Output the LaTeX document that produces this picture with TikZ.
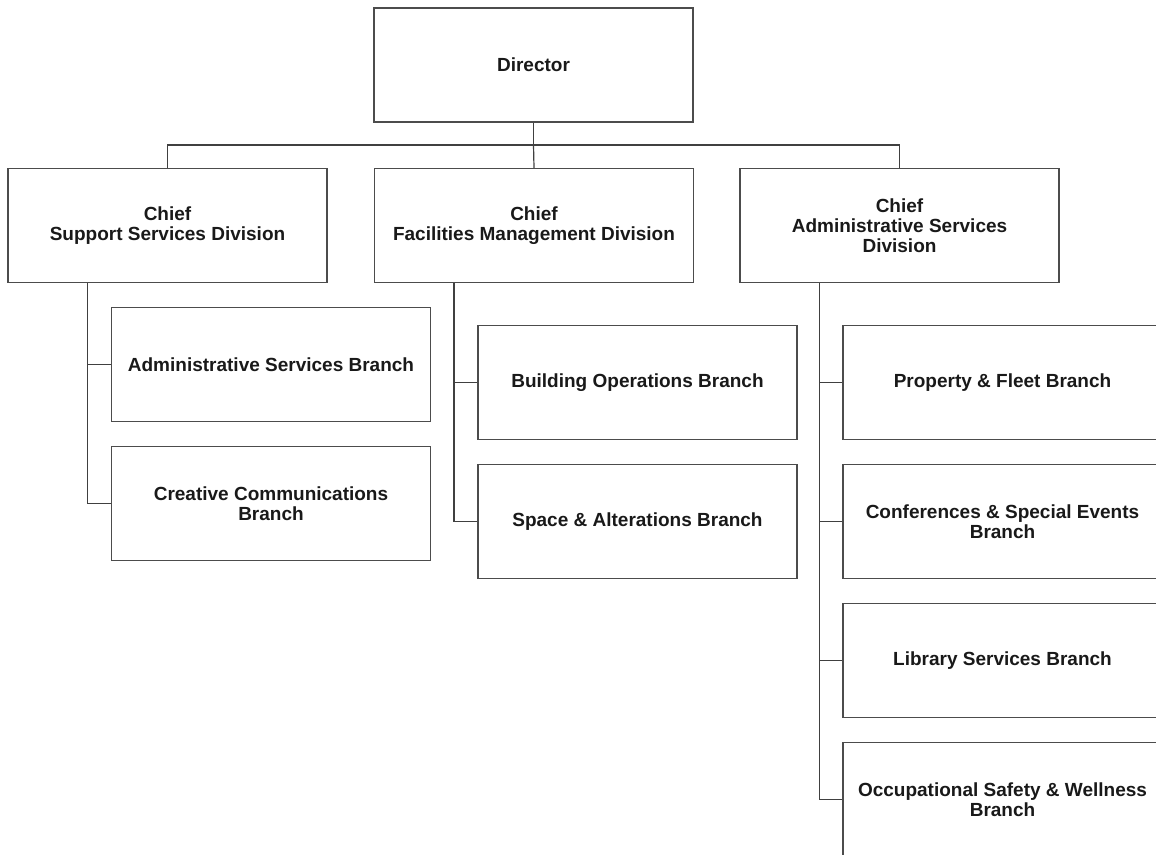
\documentclass[tikz,border=0pt]{standalone}
\usepackage{fontspec}
\setmainfont{Liberation Sans}
\tikzset{
	box/.style={draw=black!70, line width=1.2pt, minimum width=319pt, minimum height=114pt,
		align=center, inner sep=2pt, text=black!90, font=\bfseries\fontsize{19}{20}\selectfont},
	link/.style={draw=black!75, line width=1.2pt}
}
\begin{document}
\begin{tikzpicture}[x=1pt, y=-1pt]
		
		\clip (0,0) rectangle (1156,854);
		
		\node[box] (D) at (533.5,65) {Director};
		\coordinate (bus) at (533.5,145);
		
		\node[box] (S) at (167.5,225.5) {Chief\\Support Services Division};
		\node[box] (F) at (534,225.5) {Chief\\Facilities Management Division};
		\node[box] (A) at (899.5,225.5) {Chief\\Administrative Services\\Division};
		
		\draw[link] (D) -- (bus);
		\draw[link] (S.north) |- (bus) -| (A.north);
		\draw[link] (bus) -- (F.north);
		
		% support services
		\node[box] (S1) at (271,364.5) {Administrative Services Branch};
		\node[box] (S2) at (271,503.5) {Creative Communications\\Branch};
		\draw[link] ([xshift=80pt]S.south west) |- (S1.west);
		\draw[link] ([xshift=80pt]S.south west) |- (S2.west);
		
		% facilities management
		\node[box] (F1) at (637.5,382.5) {Building Operations Branch};
		\node[box] (F2) at (637.5,521.5) {Space \& Alterations Branch};
		\draw[link] ([xshift=80pt]F.south west) |- (F1.west);
		\draw[link] ([xshift=80pt]F.south west) |- (F2.west);
		
		% administrative services
		\node[box] (A1) at (1002.5,382.5) {Property \& Fleet Branch};
		\node[box] (A2) at (1002.5,521.5) {Conferences \& Special Events\\Branch};
		\node[box] (A3) at (1002.5,660.5) {Library Services Branch};
		\node[box] (A4) at (1002.5,799.5) {Occupational Safety \& Wellness\\Branch};
		\foreach \b in {A1,A2,A3,A4}
			\draw[link] ([xshift=80pt]A.south west) |- (\b.west);
		
	\end{tikzpicture}
\end{document}
